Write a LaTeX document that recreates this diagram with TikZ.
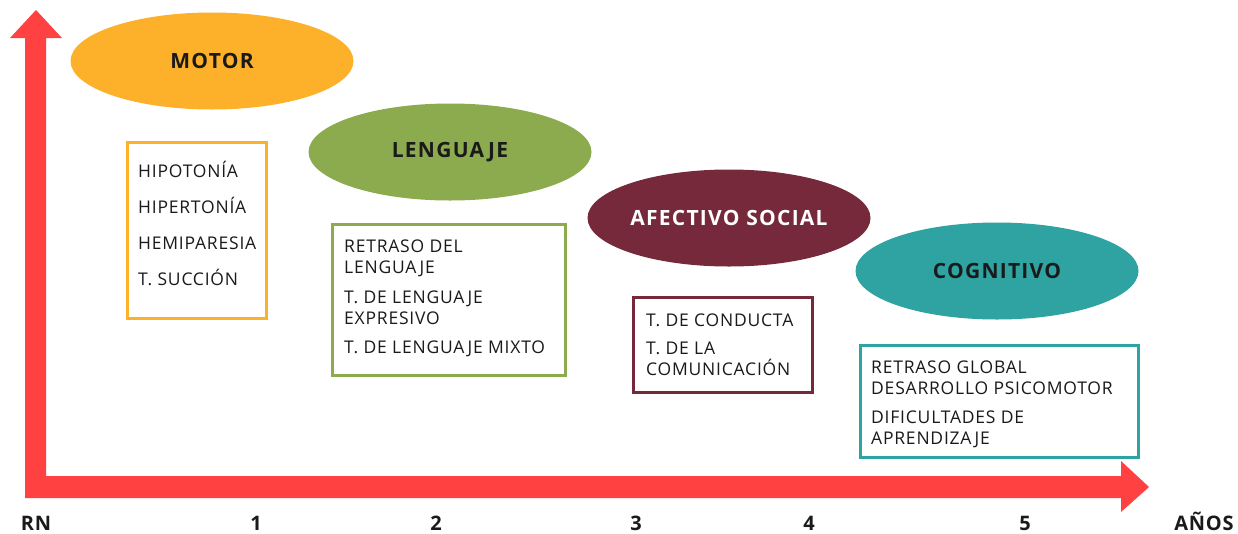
\documentclass[tikz,border=0pt]{standalone}
\usepackage{fontspec}
\setmainfont{Open Sans}
\newfontfamily\labelfont[LetterSpace=6]{Open Sans}
\newfontfamily\itemfont[LetterSpace=4.5]{Open Sans}
\newfontfamily\tickfont[LetterSpace=4]{Open Sans}
\usetikzlibrary{shapes.geometric}
\definecolor{axisred}{HTML}{FF4141}
\definecolor{motorc}{HTML}{FDB12A}
\definecolor{lengc}{HTML}{8CAB4F}
\definecolor{afecc}{HTML}{76293A}
\definecolor{cognc}{HTML}{2EA3A2}
\definecolor{txt}{HTML}{1A1A1A}
\tikzset{
  area/.style={ellipse, inner sep=0pt, minimum width=283pt, minimum height=97pt,
    font=\labelfont\bfseries\fontsize{21}{21}\selectfont, text=txt},
  listbox/.style={draw, line width=3.6pt, fill=white, inner sep=0pt, anchor=north west},
  item/.style={anchor=base west, inner sep=0pt, text=txt, font=\itemfont\fontsize{17.5}{17.5}\selectfont},
  tick/.style={anchor=base, inner sep=0pt, text=txt, font=\tickfont\bfseries\fontsize{20}{20}\selectfont}
}
\begin{document}
\begin{tikzpicture}[x=1pt,y=-1pt]
\useasboundingbox (0,0) rectangle (1238,533);
% axes
\fill[axisred] (36,10) -- (62,38) -- (46,38) -- (46,476) -- (1121,476) -- (1121,461)
  -- (1149,487) -- (1121,512) -- (1121,498) -- (25,498) -- (25,38) -- (10,38) -- cycle;
% areas
\node[area, fill=motorc] (motor) at (212,61) {MOTOR};
\node[area, fill=lengc] (leng) at (450,152) {LENGUAJE};
\node[area, fill=afecc, text=white] (afec) at (729,218) {AFECTIVO SOCIAL};
\node[area, fill=cognc] (cogn) at (997,271) {COGNITIVO};
% boxes
\node[listbox, draw=motorc, minimum width=139pt, minimum height=176pt] (b1) at (125.5,140.5) {};
\node[listbox, draw=lengc, minimum width=233pt, minimum height=151pt] (b2) at (330.5,222.5) {};
\node[listbox, draw=afecc, minimum width=179pt, minimum height=95pt] (b3) at (631.5,295.5) {};
\node[listbox, draw=cognc, minimum width=278pt, minimum height=112pt] (b4) at (858.5,343.5) {};
% box texts
\node[item] (m1) at (138,177) {HIPOTONÍA};
\node[item] (m2) at (138,213) {HIPERTONÍA};
\node[item] (m3) at (138,249) {HEMIPARESIA};
\node[item] (m4) at (138,285) {T. SUCCIÓN};
\node[item] (l1) at (344,252) {RETRASO DEL};
\node[item] (l2) at (344,273) {LENGUAJE};
\node[item] (l3) at (344,303) {T. DE LENGUAJE};
\node[item] (l4) at (344,324) {EXPRESIVO};
\node[item] (l5) at (344,353) {T. DE LENGUAJE MIXTO};
\node[item] (a1) at (646,326) {T. DE CONDUCTA};
\node[item] (a2) at (646,354) {T. DE LA};
\node[item] (a3) at (646,375) {COMUNICACIÓN};
\node[item] (c1) at (871,373) {RETRASO GLOBAL};
\node[item] (c2) at (871,394) {DESARROLLO PSICOMOTOR};
\node[item] (c3) at (871,423) {DIFICULTADES DE};
\node[item] (c4) at (871,444) {APRENDIZAJE};
% ticks
\node[tick] (t0) at (36,530) {RN};
\node[tick] (t1) at (256,530) {1};
\node[tick] (t2) at (436,530) {2};
\node[tick] (t3) at (636,530) {3};
\node[tick] (t4) at (809,530) {4};
\node[tick] (t5) at (1025,530) {5};
\node[tick] (t6) at (1204,530) {AÑOS};
\end{tikzpicture}
\end{document}
